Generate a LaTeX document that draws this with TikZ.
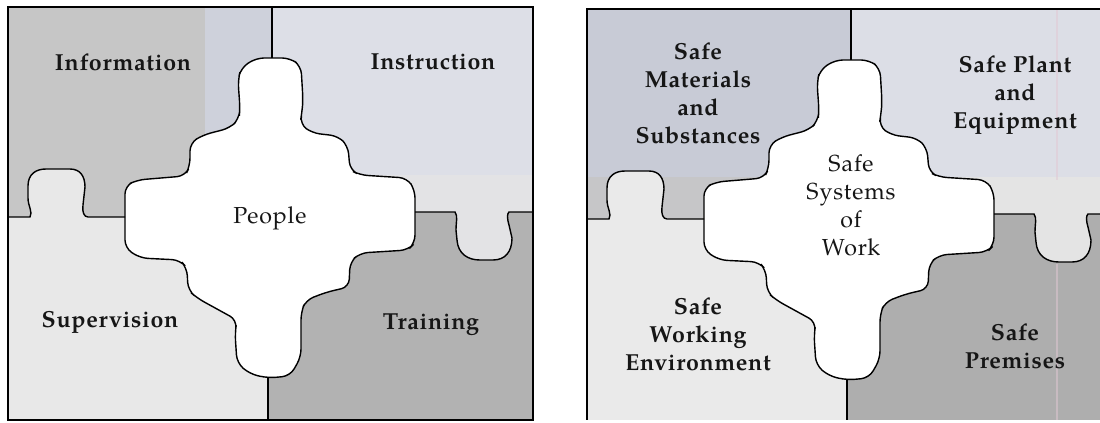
\documentclass[tikz,border=0pt]{standalone}
\usepackage{fontspec}
\setmainfont{texgyrepagella}[Extension=.otf, UprightFont=*-regular, BoldFont=*-bold]
\newfontfamily\pzbold{texgyrepagella}[Extension=.otf, UprightFont=*-bold, LetterSpace=3]
\newfontfamily\pzreg{texgyrepagella}[Extension=.otf, UprightFont=*-regular, LetterSpace=4]

\definecolor{cInfo}{RGB}{198,198,198}
\definecolor{cInfoBlue}{RGB}{206,209,219}
\definecolor{cInstr}{RGB}{221,223,231}
\definecolor{cInstrBand}{RGB}{227,227,229}
\definecolor{cSup}{RGB}{232,232,232}
\definecolor{cTrain}{RGB}{178,178,178}
\definecolor{cMat}{RGB}{200,203,214}
\definecolor{cMatBand}{RGB}{198,198,200}
\definecolor{cPlant}{RGB}{220,222,230}
\definecolor{cPlantBand}{RGB}{228,228,228}
\definecolor{cWork}{RGB}{234,234,234}
\definecolor{cPrem}{RGB}{174,174,174}
\definecolor{cPink}{RGB}{226,200,212}
\definecolor{cInk}{RGB}{22,22,22}

\newcommand{\puzzlepanel}{%
  % quadrant fills
  \fill[pTL] (8,7) rectangle (272,217);
  \fill[pTLb] (205,7) rectangle (272,135);
  \fill[pTLl] (8,175) rectangle (272,217);
  \fill[pTR] (272,7) rectangle (533,212);
  \fill[pTRb] (300,175) rectangle (533,212);
  \fill[pBL] (8,217) rectangle (268,421);
  \fill[pBR] (268,212) rectangle (533,421);
  % knob of the bottom-left piece (up into top-left)
  \fill[pBL] (30,217) .. controls (33,212) and (28,206) .. (28,198) -- (28,186)
     .. controls (28,174) and (36,169) .. (46,169) -- (70,169)
     .. controls (80,169) and (85,176) .. (85,187) -- (83,205)
     .. controls (82,212) and (84,217) .. (88,217) -- cycle;
  % knob of the top-right piece (down into bottom-right)
  \fill[pTRb] (455,212) .. controls (458,216) and (456,222) .. (456,230) -- (457,240)
     .. controls (458,254) and (468,260) .. (480,260) -- (493,260)
     .. controls (505,260) and (512,252) .. (512,238) -- (509,225)
     .. controls (507,218) and (507,214) .. (509,212) -- cycle;
}
\newcommand{\puzzlelines}{%
  % centre piece
  \draw[edge, fill=white, rounded corners=4.5pt]
    (272,58) -- (290,58) -- (301,66) -- (303,100) -- (302,112) -- (300,124) -- (312,133)
    -- (338,136) -- (348,146) -- (350,170) -- (360,175) -- (407,178) -- (415,190)
    -- (415,243) -- (408,250) -- (360,253) -- (350,262) -- (349,287) -- (327,292)
    -- (306,300) -- (301,312) -- (301,357) -- (290,376) -- (268,378) -- (250,374)
    -- (237,363) -- (235,333) -- (237,320) -- (197,298) -- (188,290) -- (187,268)
    -- (180,260) -- (140,258) -- (125,248) -- (125,186) -- (137,180) -- (185,176)
    -- (190,166) -- (190,143) -- (203,135) -- (230,128) -- (239,119) -- (240,108)
    -- (238,80) -- (241,68) -- (256,58) -- cycle;
  \draw[edge] (8,7) rectangle (533,420);
  \draw[edge] (272,7) -- (272,58);
  \draw[edge] (268,378) -- (268,420);
  \draw[edge] (8,217) -- (30,217) .. controls (33,212) and (28,206) .. (28,198) -- (28,186)
     .. controls (28,174) and (36,169) .. (46,169) -- (70,169)
     .. controls (80,169) and (85,176) .. (85,187) -- (83,205)
     .. controls (82,212) and (84,217) .. (88,217) -- (125,217);
  \draw[edge] (415,212) -- (455,212) .. controls (458,216) and (456,222) .. (456,230) -- (457,240)
     .. controls (458,254) and (468,260) .. (480,260) -- (493,260)
     .. controls (505,260) and (512,252) .. (512,238) -- (509,225)
     .. controls (507,218) and (507,214) .. (509,212) -- (533,212);
}

\tikzset{
  edge/.style={draw=black, line width=0.8pt},
  lbl/.style={text=cInk, align=center, inner sep=0pt,
    font=\pzbold\fontsize{13.2}{15.9}\selectfont},
  ctrlbl/.style={text=cInk, align=center, inner sep=0pt,
    font=\pzreg\fontsize{13.2}{15.9}\selectfont},
  artefact/.style={draw=cPink, line width=1.4pt, opacity=0.5}
}

\begin{document}
\begin{tikzpicture}[x=0.02cm, y=-0.02cm]
\useasboundingbox (0,0) rectangle (1100,423);

% ---------- left panel ----------
\begin{scope}
  \colorlet{pTL}{cInfo}\colorlet{pTLb}{cInfoBlue}\colorlet{pTLl}{cInfo}
  \colorlet{pTR}{cInstr}\colorlet{pTRb}{cInstrBand}
  \colorlet{pBL}{cSup}\colorlet{pBR}{cTrain}
  \puzzlepanel
  \puzzlelines
\end{scope}

% ---------- right panel ----------
\begin{scope}
  \clip (545,0) rectangle (1100,419.5);
  \begin{scope}[shift={(579,2)}]
    \colorlet{pTL}{cMat}\colorlet{pTLb}{cMat}\colorlet{pTLl}{cMatBand}
    \colorlet{pTR}{cPlant}\colorlet{pTRb}{cPlantBand}
    \colorlet{pBL}{cWork}\colorlet{pBR}{cPrem}
    \puzzlepanel
    \draw[artefact] (478,8) -- (478,178);
    \draw[artefact] (478,262) -- (478,430);
    \puzzlelines
  \end{scope}
\end{scope}

% ---------- labels, left ----------
\node[lbl] (info) at (123,62) {Information};
\node[lbl] (instr) at (433,62) {Instruction};
\node[ctrlbl] (people) at (270,218) {People};
\node[lbl] (superv) at (110,322) {Supervision};
\node[lbl] (train) at (431,325) {Training};

% ---------- labels, right ----------
\node[lbl] (rmat) at (698,93) {Safe\\Materials\\and\\Substances};
\node[lbl] (rplant) at (1015,95) {Safe Plant\\and\\Equipment};
\node[ctrlbl] (rsys) at (851,205) {Safe\\Systems\\of\\Work};
\node[lbl] (rwork) at (698,334) {Safe\\Working\\Environment};
\node[lbl] (rprem) at (1015,346) {Safe\\Premises};
\end{tikzpicture}
\end{document}
